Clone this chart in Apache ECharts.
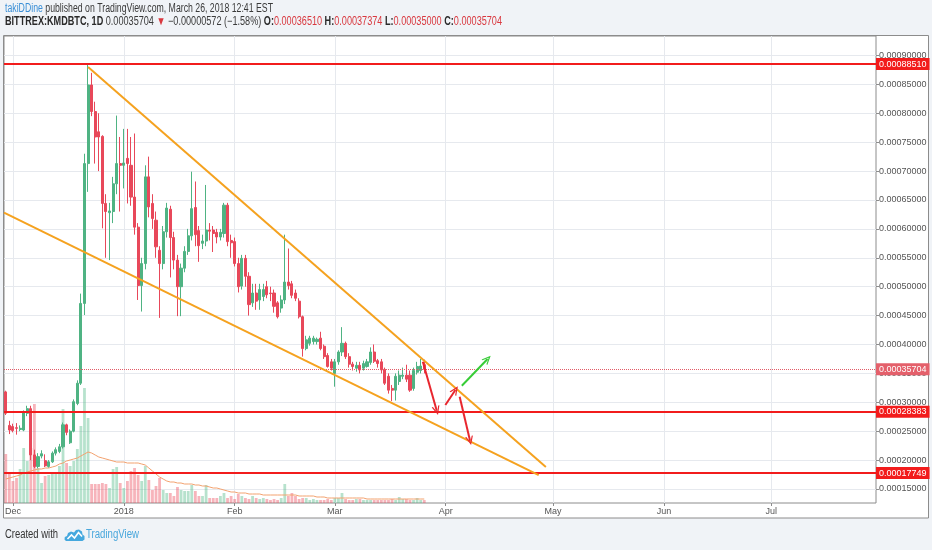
<!DOCTYPE html>
<html><head><meta charset="utf-8">
<script src="https://cdn.jsdelivr.net/npm/echarts@6/dist/echarts.min.js"></script>
<style>html,body{margin:0;padding:0;background:#f0f3f7;}#c{width:932px;height:550px;}</style>
</head><body><div id="c"></div>
<script>
// ---- DATA (prices in satoshi = 1e-8 BTC; x = day index, 0 = 2017-11-29) ----
const openSat = [31800,26000,25800,25600,25300,25200,28100,28900,20900,18900,
20700,19900,18900,19700,21200,21500,22300,26100,23000,25000,
29800,33300,47100,71300,84900,80300,76800,76000,64400,62800,
63000,67800,71300,71000,72200,71000,65500,60300,50200,54000,
69000,64400,61500,56300,54000,59500,63400,58500,54600,50000,
53200,56100,58800,63700,59700,57500,57900,59800,59800,59400,
58600,59200,64100,58000,57800,54000,50100,54900,51800,47200,
48900,47700,48300,50000,48900,48900,47200,46300,47700,50800,
50500,48900,47500,44800,39300,40200,40500,40500,41100,39700,
38100,37000,35000,37000,38700,40200,37900,36600,35900,36400,
35900,36200,36900,38700,37200,37000,35700,34500,32400,32100,
33600,34500,34700,34700,32400,35200,35500,36510];
const closeSat = [28100,25200,25100,25500,25500,28200,28900,20900,18900,20600,
21100,19000,19700,21200,21800,22300,26100,24800,25000,30100,
33300,47100,71300,84900,80300,75900,75900,64400,63000,63100,
67800,71300,71000,71400,71300,65500,60300,50200,54000,69000,
63800,61800,56900,54000,59500,63600,58500,54600,50000,53200,
56100,58800,63500,59000,57100,57900,59800,59600,59200,58600,
59400,64100,57800,57600,54000,50000,54900,51800,46900,48900,
47500,49500,49500,48600,48800,46600,44800,47700,50800,50200,
48500,48000,44800,39300,40800,41100,41100,40900,39300,37900,
36200,35900,37000,38700,40200,37900,36600,36200,36400,35600,
36700,37000,38700,37100,36700,35600,33300,32100,32100,34500,
34700,34700,34000,32100,35500,36200,36276,35704];
const lowSat = [27800,24500,24800,24400,25000,25000,27600,20000,18600,18600,
20300,18800,18700,19500,20800,21200,22000,24300,22800,24800,
29500,33000,45100,66400,79500,71300,70000,60100,55000,54600,
61000,66000,63000,67000,64400,64000,59000,47700,45700,53000,
62000,60000,55000,44600,53000,58500,51600,53000,44900,44900,
52500,55500,58000,57000,54300,56500,57000,58000,56000,57500,
58000,58500,57000,55000,53500,49000,49500,50000,45000,46500,
46000,46000,47500,48000,47500,45500,44500,45500,47000,49500,
48000,47500,44500,37900,39000,39800,40000,40000,39000,37500,
36000,35500,32700,36500,38000,37500,36000,35500,35300,35000,
35500,36000,36500,36800,36000,35000,33000,31500,30200,30300,
33000,34000,33500,31800,32000,34800,35000,35000];
const highSat = [32000,26800,26300,26400,26000,28600,29400,29400,21800,21200,
21700,21000,20000,21500,22200,22800,26500,26300,25300,30500,
33800,48800,73000,88510,87000,82000,80000,76200,66000,64500,
69000,79600,75900,77300,77300,75900,76500,61000,55000,71000,
72500,66000,63000,57000,60500,64500,64000,59500,55500,54000,
57000,60000,69900,68200,60500,59000,67600,61000,60500,60000,
60000,64500,64500,59000,58500,55000,55500,55500,52500,50500,
50500,50500,50500,51000,50000,49500,47500,48500,59000,56600,
51000,49500,48000,45000,41500,41500,41500,41200,42200,40000,
38500,37500,37500,39000,43000,40500,38500,37000,37000,37000,
37200,37500,39500,40000,37500,37500,36000,35000,33000,35000,
35500,36000,36500,35500,36000,37000,37500,37374];
const volume = [49,29,22,25,34,55,42,55,99,35,
20,27,28,30,31,37,94,40,37,42,
54,77,115,85,19,19,19,20,19,15,
34,36,20,15,22,32,35,28,22,37,
23,13,17,25,13,10,10,7,16,13,
12,12,18,12,7,7,18,5,5,5,
7,10,5,7,4,9,7,5,4,7,
5,4,5,4,3,4,3,5,19,7,
10,7,4,5,5,3,4,3,3,3,
4,3,5,5,10,4,3,3,4,4,
3,3,3,3,3,3,3,3,4,3,
6,4,4,3,3,5,3,3];
const volumeMA = [24,25,26,27,28,30,31,32,33,34,
34,35,35,36,37,39,40,42,43,44,
45,47,49,51,50,48,46,45,44,43,
42,41,41,41,40,40,40,40,39,38,
35,32,29,26,24,22,21,21,20,20,
19,19,19,18,18,17,17,16,15,15,
14,13,12,11,11,10,10,10,9,9,
9,9,8,8,8,8,8,8,8,8,
8,8,7,7,7,7,7,6,6,6,
5,5,5,5,5,5,5,5,5,5,
5,4,4,4,4,4,4,4,4,4,
4,4,4,4,4,4,4,4];
const priceTicks = [15000,20000,25000,30000,35000,40000,45000,50000,55000,60000,65000,70000,75000,80000,85000,90000];
const monthTickDays = [2,33,64,92,123,153,184,214];
const monthTickLabels = ['Dec','2018','Feb','Mar','Apr','May','Jun','Jul'];
const levelLines = [88510,28383,17749];
const lastPrice = 35704;
const upperTrend = [[23,88000],[151,18800]];
const lowerTrend = [[-0.5,62800],[149,17400]];
const redArrows = [[[116.6,37020],[120.5,28550]],[[122.9,29530],[125.7,32130]],[[126.9,30970],[129.8,23360]]];
const greenArrow = [[127.5,32870],[134.7,37490]];

// ---- fonts ----
function hasFont(f){const c=document.createElement('canvas').getContext('2d');const s='0123456789 abcdefghijklmnopqrstuvwxyzABC';c.font='40px monospace';const a=c.measureText(s).width;c.font='40px "'+f+'", monospace';return c.measureText(s).width!==a;}
const NARROW = hasFont('Liberation Sans Narrow');
const FF = NARROW ? '"Liberation Sans Narrow", "Liberation Sans", Arial, sans-serif' : '"Liberation Sans", Arial, sans-serif';
const AX = NARROW ? 11 : 9;
const mctx = document.createElement('canvas').getContext('2d');

function richLine(segs, size, x, y, targetW){
  const rich = {}; let txt = ''; let w = 0;
  segs.forEach((s,k)=>{
    const key = 's'+k;
    rich[key] = {fontSize:size, fontWeight:s[1], fill:s[2], color:s[2], fontFamily:FF};
    txt += '{'+key+'|'+s[0]+'}';
    mctx.font = s[1]+' '+size+'px '+FF;
    w += mctx.measureText(s[0]).width;
  });
  return {type:'text', x:x, y:y, scaleX: targetW/w, z:20, silent:true,
    style:{text:txt, rich:rich, verticalAlign:'middle', align:'left', fontSize:size, fontFamily:FF}};
}
const RED = '#d9383f', DK = '#2a2a2a', GR = '#3a3a3a';
const hdr1 = [['takiDDine','normal','#3b8fd6'],[' published on TradingView.com, March 26, 2018 12:41 EST','normal',GR]];
const hdr2 = [['BITTREX:KMDBTC, 1D','bold',DK],[' 0.00035704 ','normal',GR],['\u25BC','normal',RED],[' \u22120.00000572 (\u22121.58%) ','normal',GR],
  ['O:','bold',DK],['0.00036510','normal',RED],[' H:','bold',DK],['0.00037374','normal',RED],[' L:','bold',DK],['0.00035000','normal',RED],[' C:','bold',DK],['0.00035704','normal',RED]];

// ---- series data ----
const candles = openSat.map((o,i)=>[i,o,closeSat[i],lowSat[i],highSat[i]]);
const UP='#4fb383', DOWN='#e8485a';
const volData = volume.map((v,i)=>({value:[i,v], itemStyle:{color: closeSat[i]>=openSat[i] ? 'rgba(83,185,135,0.42)' : 'rgba(235,77,92,0.42)'}}));
const maData = volumeMA.map((v,i)=>[i,v]);

const chev = 'path://M0,10 L5,0 L10,10 L8.4,10 L5,3.2 L1.6,10 Z';
const badge = (txt,bg)=>({show:true, position:'end', distance:0, formatter:txt, backgroundColor:bg, color:'#fff', padding:[2,3,1,3], fontSize:AX, fontFamily:FF});
const ml = [];
levelLines.forEach(v=>ml.push({yAxis:v, lineStyle:{color:'#f21c1c', width:2, type:'solid'}, label:badge((v/1e8).toFixed(8),'#f21c1c')}));
ml.push({yAxis:lastPrice, lineStyle:{color:'#e25b67', width:1, type:'dotted'}, label:badge((lastPrice/1e8).toFixed(8),'#e4606b')});
[upperTrend, lowerTrend].forEach(t=>ml.push([{coord:t[0], lineStyle:{color:'#f5a21f', width:2, type:'solid'}, label:{show:false}},{coord:t[1]}]));
redArrows.forEach(a=>ml.push([{coord:a[0], symbol:'none', lineStyle:{color:'#e8262e', width:2, type:'solid'}, label:{show:false}},{coord:a[1], symbol:chev, symbolSize:[8,9]}]));
ml.push([{coord:greenArrow[0], symbol:'none', lineStyle:{color:'#37cc37', width:2, type:'solid'}, label:{show:false}},{coord:greenArrow[1], symbol:chev, symbolSize:[8,9]}]);

const chart = echarts.init(document.getElementById('c'), null, {renderer:'canvas'});
chart.setOption({
  animation:false,
  backgroundColor:'#f0f3f7',
  grid:{left:4, right:56, top:36, bottom:47, show:true, borderColor:'#8c8c8c', borderWidth:1, backgroundColor:'transparent', containLabel:false, outerBoundsMode:'none'},
  xAxis:{type:'value', min:-0.5, max:243.3,
    axisLine:{show:false, onZero:false},
    axisTick:{show:true, customValues:monthTickDays, length:3, lineStyle:{color:'#8c8c8c'}},
    axisLabel:{customValues:monthTickDays, margin:4, color:'#555', fontSize:AX, fontFamily:FF,
      formatter:v=>{const k=monthTickDays.indexOf(Math.round(v)); return k>=0?monthTickLabels[k]:'';}},
    splitLine:{show:true, lineStyle:{color:'#e6e9ee', width:1}}},
  yAxis:[{type:'value', position:'right', min:12578, max:93369,
    axisLine:{show:false, onZero:false},
    axisTick:{show:true, customValues:priceTicks, length:3, lineStyle:{color:'#8c8c8c'}},
    axisLabel:{customValues:priceTicks, margin:3, color:'#555', fontSize:AX, fontFamily:FF, formatter:v=>(v/1e8).toFixed(8)},
    splitLine:{show:true, lineStyle:{color:'#e6e9ee', width:1}}},
    {type:'value', min:0, max:467, show:false, axisLine:{onZero:false}}],
  graphic:[
    {type:'rect', z:-10, silent:true, shape:{x:3.5, y:35.5, width:925, height:482.5}, style:{fill:'#ffffff', stroke:'#8c8c8c', lineWidth:1}},
    richLine(hdr1, 12, 5, 9, 268),
    richLine(hdr2, 12, 5, 21.5, 497),
    richLine([['Created with','normal','#333']], 12, 5, 535, 53),
    richLine([['TradingView','normal','#49a7dc']], 12, 86, 535, 53),
    {type:'group', x:64, y:528, silent:true, children:[
      {type:'polygon', shape:{points:[[2,13],[0.5,11.5],[0.8,9],[3,8],[4,5],[7,3.5],[10,4.5],[12,2],[15,1.5],[18,3.5],[18.5,6.5],[20.5,8],[20.5,11.5],[18.5,13]]}, style:{fill:'#45a8de'}},
      {type:'polyline', shape:{points:[[3.5,11],[7.5,7],[10.5,10],[14.5,4.5],[18,8.5]]}, style:{stroke:'#ffffff', lineWidth:1.6, fill:null}}
    ]}
  ],
  series:[
    {type:'bar', name:'Volume', xAxisIndex:0, yAxisIndex:1, data:volData, barWidth:2.8, z:1, silent:true},
    {type:'line', name:'Volume MA', xAxisIndex:0, yAxisIndex:1, data:maData, showSymbol:false, symbol:'none', lineStyle:{color:'#f3a26f', width:1}, z:1, silent:true},
    {type:'candlestick', name:'KMDBTC', xAxisIndex:0, yAxisIndex:0, data:candles, barWidth:2.6, z:3,
      itemStyle:{color:UP, color0:DOWN, borderColor:UP, borderColor0:DOWN, borderWidth:1},
      markLine:{silent:true, symbol:['none','none'], animation:false, precision:8, data:ml}}
  ]
});
</script></body></html>
